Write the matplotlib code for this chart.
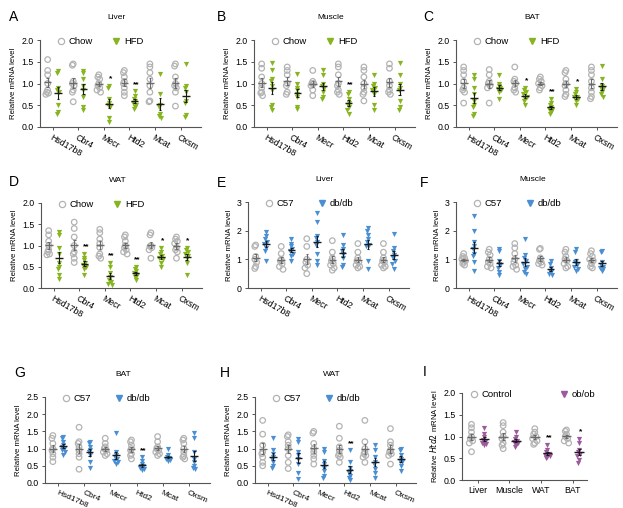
import numpy as np
import matplotlib
matplotlib.use("Agg")
import matplotlib.pyplot as plt
from matplotlib.lines import Line2D

plt.rcParams['font.family'] = ['Liberation Sans', 'DejaVu Sans']

genes = ["Hsd17b8", "Cbr4", "Mecr", "Htd2", "Mcat", "Oxsm"]
tissues = ["Liver", "Muscle", "WAT", "BAT"]

# A: liver, chow vs HFD
a_chow = [[1.55, 1.3, 1.2, 1.0, 0.85, 0.8, 0.78, 0.75],
          [1.45, 1.42, 1.05, 1.0, 0.95, 0.85, 0.8, 0.58],
          [1.2, 1.15, 1.1, 1.0, 0.95, 0.9, 0.85, 0.8],
          [1.3, 1.25, 1.15, 1.05, 1.0, 0.9, 0.8, 0.72],
          [1.45, 1.38, 1.25, 1.1, 0.95, 0.8, 0.6, 0.58],
          [1.45, 1.4, 1.15, 1.0, 0.95, 0.9, 0.8, 0.48]]
a_hfd = [[1.28, 1.25, 0.9, 0.85, 0.8, 0.5, 0.35, 0.3],
         [1.28, 1.25, 1.1, 0.95, 0.85, 0.7, 0.45, 0.38],
         [0.95, 0.9, 0.65, 0.55, 0.5, 0.45, 0.2, 0.12],
         [0.82, 0.72, 0.65, 0.6, 0.55, 0.5, 0.45, 0.42],
         [1.22, 0.75, 0.5, 0.45, 0.3, 0.25, 0.2],
         [1.45, 0.95, 0.9, 0.8, 0.6, 0.55, 0.28, 0.22]]
a_stars = ["", "", "*", "**", "", ""]

# B: muscle, chow vs HFD
b_chow = [[1.45, 1.35, 1.15, 1.0, 0.9, 0.8, 0.78, 0.72],
          [1.38, 1.3, 1.2, 1.0, 0.95, 0.8, 0.75],
          [1.3, 1.05, 1.0, 1.0, 0.95, 0.85, 0.72],
          [1.45, 1.38, 1.2, 1.0, 0.95, 0.85, 0.8, 0.75],
          [1.38, 1.3, 1.15, 1.0, 0.9, 0.8, 0.75, 0.6],
          [1.45, 1.35, 1.05, 0.95, 0.85, 0.8, 0.75]]
b_hfd = [[1.48, 1.3, 1.1, 1.05, 0.95, 0.85, 0.5, 0.45, 0.38],
         [1.22, 1.0, 0.9, 0.85, 0.75, 0.7, 0.45, 0.42],
         [1.32, 1.2, 1.0, 0.95, 0.9, 0.8, 0.7, 0.65],
         [0.8, 0.75, 0.65, 0.55, 0.5, 0.45, 0.4, 0.3],
         [1.2, 1.0, 0.95, 0.9, 0.85, 0.75, 0.5, 0.38],
         [1.48, 1.2, 1.0, 0.9, 0.85, 0.6, 0.45, 0.4]]
b_stars = ["", "", "", "**", "", ""]

# C: BAT, chow vs HFD
c_chow = [[1.38, 1.3, 1.2, 1.05, 0.9, 0.85, 0.8, 0.55],
          [1.32, 1.2, 1.05, 1.0, 0.95, 0.9, 0.55],
          [1.38, 1.1, 1.05, 1.0, 0.9, 0.85, 0.8],
          [1.15, 1.1, 1.05, 1.0, 0.95, 0.9, 0.85],
          [1.3, 1.25, 1.1, 1.0, 0.95, 0.85, 0.75, 0.7],
          [1.38, 1.3, 1.2, 1.05, 0.9, 0.8, 0.7, 0.65]]
c_hfd = [[1.2, 1.1, 0.9, 0.75, 0.6, 0.5, 0.45, 0.3, 0.25],
         [1.2, 1.0, 0.95, 0.9, 0.88, 0.85, 0.8, 0.65],
         [0.9, 0.85, 0.8, 0.75, 0.7, 0.65, 0.6, 0.5],
         [0.65, 0.55, 0.5, 0.45, 0.42, 0.4, 0.35, 0.3],
         [0.88, 0.8, 0.75, 0.7, 0.68, 0.65, 0.6, 0.5],
         [1.4, 1.1, 0.95, 0.9, 0.88, 0.8, 0.75, 0.7]]
c_stars = ["", "", "*", "**", "*", ""]

# D: WAT, chow vs HFD
d_chow = [[1.35, 1.25, 1.1, 1.0, 0.9, 0.85, 0.8, 0.78],
          [1.55, 1.4, 1.2, 1.0, 0.85, 0.8, 0.7, 0.6],
          [1.38, 1.3, 1.15, 1.05, 0.95, 0.8, 0.75, 0.7],
          [1.25, 1.2, 1.1, 1.0, 0.95, 0.9, 0.85, 0.8],
          [1.3, 1.25, 1.0, 0.98, 0.95, 0.9, 0.7],
          [1.2, 1.15, 1.1, 1.05, 0.95, 0.9, 0.85, 0.7]]
d_hfd = [[1.32, 1.25, 0.95, 0.8, 0.6, 0.5, 0.45, 0.3, 0.22],
         [0.8, 0.7, 0.65, 0.6, 0.55, 0.5, 0.45, 0.3],
         [0.6, 0.5, 0.35, 0.25, 0.2, 0.15, 0.1, 0.08],
         [0.5, 0.45, 0.4, 0.35, 0.3, 0.28, 0.25, 0.2],
         [0.95, 0.85, 0.8, 0.75, 0.7, 0.68, 0.6, 0.5],
         [0.95, 0.9, 0.85, 0.8, 0.75, 0.7, 0.6, 0.3]]
d_stars = ["", "**", "**", "**", "*", "*"]

# E: liver, C57 vs db/db
e_c57 = [[1.5, 1.45, 1.1, 1.0, 0.9, 0.75, 0.68],
         [1.45, 1.2, 1.0, 0.95, 0.85, 0.75, 0.65],
         [1.72, 1.45, 1.0, 0.9, 0.8, 0.7, 0.5],
         [1.65, 1.25, 1.05, 0.95, 0.85, 0.8, 0.7, 0.62],
         [1.55, 1.25, 1.05, 0.95, 0.9, 0.8, 0.75, 0.7],
         [1.55, 1.25, 1.05, 0.95, 0.9, 0.8, 0.75, 0.7]]
e_db = [[1.95, 1.8, 1.7, 1.6, 1.55, 1.4, 1.3, 0.95],
        [1.7, 1.55, 1.45, 1.35, 1.3, 1.2, 1.1, 0.95],
        [2.6, 2.3, 1.8, 1.75, 1.6, 1.5, 1.2, 0.95, 0.8],
        [1.85, 1.5, 1.35, 1.3, 1.2, 1.05, 0.8, 0.72],
        [2.1, 2.0, 1.85, 1.7, 1.6, 1.5, 1.45, 0.95, 0.65],
        [1.88, 1.4, 1.3, 1.15, 1.05, 0.95, 0.85, 0.65]]
e_stars = ["", "", "", "", "", ""]

# F: muscle, C57 vs db/db
f_c57 = [[1.2, 1.1, 1.05, 1.0, 0.95, 0.9, 0.85, 0.8],
         [1.35, 1.25, 1.15, 1.0, 0.9, 0.85, 0.75, 0.7],
         [1.55, 1.4, 1.2, 1.0, 0.9, 0.8, 0.75, 0.65],
         [1.38, 1.35, 1.05, 0.95, 0.9, 0.85, 0.8],
         [1.35, 1.25, 1.1, 1.0, 0.95, 0.85, 0.75, 0.7],
         [1.3, 1.2, 1.1, 1.0, 0.95, 0.85, 0.75, 0.7]]
f_db = [[2.5, 2.0, 1.6, 1.45, 1.35, 1.2, 1.1, 0.9, 0.6],
        [1.35, 1.3, 0.95, 0.85, 0.8, 0.7, 0.55, 0.45],
        [1.72, 1.15, 1.05, 0.95, 0.85, 0.75, 0.65, 0.55, 0.5],
        [0.95, 0.85, 0.7, 0.6, 0.55, 0.5, 0.45],
        [1.35, 1.25, 0.95, 0.9, 0.8, 0.75, 0.65, 0.6],
        [1.28, 1.25, 0.9, 0.8, 0.75, 0.7, 0.65, 0.6]]
f_stars = ["", "", "", "", "", ""]

# G: BAT, C57 vs db/db
g_c57 = [[1.38, 1.3, 1.15, 1.0, 0.95, 0.85, 0.75, 0.62],
         [1.62, 1.2, 1.15, 1.05, 0.95, 0.85, 0.75, 0.4],
         [1.3, 1.15, 1.05, 1.0, 0.95, 0.9, 0.85, 0.8],
         [1.25, 1.2, 1.1, 1.0, 0.95, 0.85, 0.8, 0.7],
         [1.35, 1.2, 1.05, 1.0, 0.95, 0.9, 0.85, 0.8],
         [1.3, 1.25, 1.15, 1.0, 0.9, 0.8, 0.75, 0.7]]
g_db = [[1.35, 1.3, 1.2, 1.1, 1.05, 1.0, 0.95, 0.9, 0.8],
        [1.2, 1.15, 1.05, 0.95, 0.9, 0.8, 0.6, 0.45],
        [1.45, 0.9, 0.8, 0.75, 0.7, 0.65, 0.6, 0.55],
        [0.75, 0.65, 0.55, 0.5, 0.48, 0.45, 0.4, 0.38],
        [0.98, 0.8, 0.75, 0.72, 0.7, 0.68, 0.65],
        [1.45, 1.3, 0.9, 0.7, 0.6, 0.5, 0.45, 0.4]]
g_stars = ["", "", "", "**", "", ""]

# H: WAT, C57 vs db/db
h_c57 = [[1.82, 1.42, 1.1, 0.9, 0.85, 0.75, 0.6, 0.5],
         [1.4, 1.35, 1.2, 1.1, 1.0, 0.8, 0.6, 0.42],
         [1.5, 1.45, 1.15, 1.0, 0.9, 0.8, 0.7, 0.55],
         [1.65, 1.3, 1.05, 0.95, 0.85, 0.8, 0.75, 0.6],
         [1.82, 1.2, 1.0, 0.9, 0.85, 0.8, 0.75, 0.6],
         [1.58, 1.2, 1.1, 0.95, 0.9, 0.85, 0.8, 0.55]]
h_db = [[1.3, 0.95, 0.85, 0.75, 0.7, 0.6, 0.5, 0.45],
        [1.28, 1.2, 0.9, 0.8, 0.7, 0.55, 0.3, 0.12],
        [1.0, 0.9, 0.65, 0.55, 0.45, 0.35, 0.2, 0.15],
        [0.95, 0.6, 0.45, 0.35, 0.3, 0.2, 0.15, 0.1],
        [1.1, 0.95, 0.75, 0.6, 0.55, 0.4, 0.3, 0.15],
        [1.0, 0.95, 0.8, 0.7, 0.65, 0.6, 0.5, 0.35]]
h_stars = ["", "", "", "**", "", ""]

# I: Htd2 in ob/ob
i_ctrl = [[1.28, 1.2, 1.1, 1.0, 0.95, 0.9, 0.85, 0.65],
          [1.32, 1.25, 1.1, 1.0, 0.95, 0.85, 0.8, 0.72],
          [1.18, 1.1, 1.05, 1.0, 0.95, 0.9, 0.85, 0.82],
          [1.15, 1.12, 1.05, 1.0, 0.95, 0.9, 0.85]]
i_ob = [[1.2, 1.05, 0.98, 0.92, 0.88, 0.85, 0.82, 0.8],
        [1.1, 1.0, 0.95, 0.9, 0.88, 0.85, 0.8, 0.75],
        [0.8, 0.7, 0.65, 0.6, 0.58, 0.55, 0.52, 0.5],
        [0.95, 0.85, 0.7, 0.65, 0.6, 0.55, 0.45, 0.4]]
i_stars = ["", "", "**", "*"]

GREY = "#b3b3b3"
GREEN = "#86b51f"
BLUE = "#4b8fd3"
PURPLE = "#9c5b9c"

W, H = 623, 508
fig = plt.figure(figsize=(W / 100, H / 100), dpi=100)


def add_ax(left, top, width, height):
    return fig.add_axes([left / W, 1 - (top + height) / H, width / W, height / H])


def spread(vals, ytop):
    vals = sorted(vals, reverse=True)
    offs = []
    k = 0
    for i, v in enumerate(vals):
        if i > 0 and abs(v - vals[i - 1]) < 0.035 * ytop:
            k += 1
        else:
            k = 0
        offs.append([0, -1, 1, -2, 2][k % 5] * 0.035)
    return vals, offs


def panel(ax, cats, ctrl, treat, stars, color, names, ymax, yticks, ylabel,
          title=None, rot=-30, lab_fs=6.3, leg_x=0.1, colsp=2.0):
    n = len(cats)
    d = 0.2
    for i in range(n):
        for grp, dx, kind in ((ctrl[i], -d, 0), (treat[i], d, 1)):
            vals, offs = spread(grp, ymax)
            xs = [i + dx + o for o in offs]
            if kind == 0:
                ax.scatter(xs, vals, s=16, facecolors="none", edgecolors=GREY,
                           linewidths=0.9, zorder=2)
                lc = "#6b6b6b"
            else:
                ax.scatter(xs, vals, s=14, marker="v", color=color,
                           linewidths=0, zorder=2)
                lc = "#1a1a1a"
            m = np.mean(grp)
            se = np.std(grp, ddof=1) / np.sqrt(len(grp))
            ax.hlines(m, i + dx - 0.15, i + dx + 0.15, color=lc, lw=1.0, zorder=3)
            ax.vlines(i + dx, m - se, m + se, color=lc, lw=0.8, zorder=3)
            ax.hlines([m - se, m + se], i + dx - 0.05, i + dx + 0.05, color=lc,
                      lw=0.8, zorder=3)
        if stars[i]:
            ax.text(i + d + 0.05, max(treat[i]) + 0.04 * ymax, stars[i],
                    ha="center", va="bottom", fontsize=6, fontweight="bold")
    ax.set_xlim(-0.5, n - 0.2 if rot else n - 0.55)
    ax.set_ylim(0, ymax)
    ax.set_yticks(yticks)
    ax.set_yticklabels([f"{t:.1f}" if ymax < 3 else f"{t:d}" for t in yticks],
                       fontsize=6.3)
    ax.set_xticks(range(n))
    if rot:
        ax.set_xticklabels(cats, rotation=rot, ha="left", rotation_mode="anchor",
                           fontsize=lab_fs)
    else:
        ax.set_xticklabels(cats, fontsize=lab_fs)
    for s in ("top", "right"):
        ax.spines[s].set_visible(False)
    for s in ("left", "bottom"):
        ax.spines[s].set_color("#555555")
        ax.spines[s].set_linewidth(0.8)
    ax.tick_params(length=2.5, width=0.7, color="#555555", pad=2)
    ax.set_ylabel(ylabel, fontsize=5.6, labelpad=3)
    handles = [Line2D([], [], ls="none", marker="o", mfc="none", mec=GREY,
                      ms=4.5, mew=0.9),
               Line2D([], [], ls="none", marker="v", color=color, ms=4)]
    ax.legend(handles, names, ncol=2, loc="center left",
              bbox_to_anchor=(leg_x, 0.98), frameon=False, fontsize=6.8,
              handlelength=1.0, handletextpad=0.3, columnspacing=colsp,
              borderaxespad=0, borderpad=0)
    if title:
        ax.text((n - 1) / 2, 1.26, title, fontsize=6,
                transform=ax.get_xaxis_transform(), ha="center", va="center")


ylab = "Relative mRNA level"
t2 = [0.0, 0.5, 1.0, 1.5, 2.0]
t3 = [0, 1, 2, 3]
t25 = [0.0, 0.5, 1.0, 1.5, 2.0, 2.5]
pw = 161

axA = add_ax(40, 40, pw, 87)
panel(axA, genes, a_chow, a_hfd, a_stars, GREEN, ["Chow", "HFD"], 2.0, t2, ylab, "Liver")
axB = add_ax(254, 40, pw, 87)
panel(axB, genes, b_chow, b_hfd, b_stars, GREEN, ["Chow", "HFD"], 2.0, t2, ylab, "Muscle")
axC = add_ax(456, 40, pw, 87)
panel(axC, genes, c_chow, c_hfd, c_stars, GREEN, ["Chow", "HFD"], 2.0, t2, ylab, "BAT")

axD = add_ax(41, 203, pw, 85)
panel(axD, genes, d_chow, d_hfd, d_stars, GREEN, ["Chow", "HFD"], 2.0, t2, ylab, "WAT")
axE = add_ax(248, 202, pw, 86)
panel(axE, genes, e_c57, e_db, e_stars, BLUE, ["C57", "db/db"], 3, t3, ylab, "Liver",
      colsp=2.45)
axF = add_ax(456, 202, pw, 86)
panel(axF, genes, f_c57, f_db, f_stars, BLUE, ["C57", "db/db"], 3, t3, ylab, "Muscle",
      colsp=2.45)

axG = add_ax(45, 397, 165, 86)
panel(axG, genes, g_c57, g_db, g_stars, BLUE, ["C57", "db/db"], 2.5, t25, ylab, "BAT",
      rot=-24, lab_fs=6.0, colsp=2.45)
axH = add_ax(255, 397, 161, 86)
panel(axH, genes, h_c57, h_db, h_stars, BLUE, ["C57", "db/db"], 2.5, t25, ylab, "WAT",
      rot=-24, lab_fs=6.0, colsp=2.45)
axI = add_ax(462, 393, 125, 87)
panel(axI, tissues, i_ctrl, i_ob, i_stars, PURPLE, ["Control", "ob/ob"], 2.0, t2,
      r"Relative $\mathit{Htd2}$ mRNA level", rot=0, leg_x=0.06, colsp=5.0)

letters = [("A", 14, 17), ("B", 222, 17), ("C", 428, 17),
           ("D", 14, 182), ("E", 222, 183), ("F", 424, 183),
           ("G", 20, 373), ("H", 225, 373), ("I", 425, 372)]
for txt, x, y in letters:
    fig.text(x / W, 1 - y / H, txt, fontsize=10, ha="center", va="center")

fig.savefig("out.png", dpi=100)
